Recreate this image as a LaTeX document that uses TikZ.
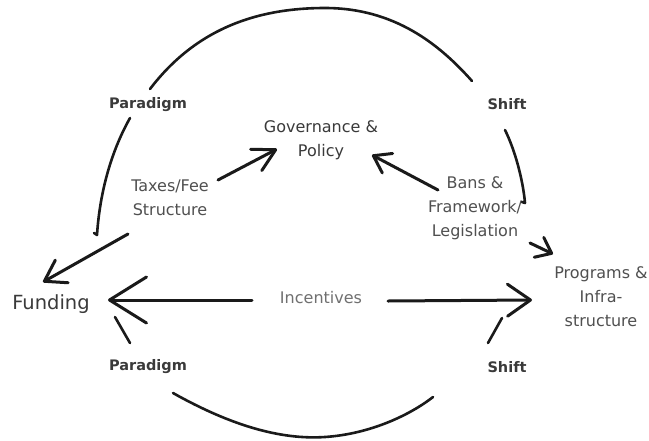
\documentclass[tikz,border=0pt]{standalone}
\usepackage{fontspec}
\setmainfont{DejaVu Sans}
\usetikzlibrary{arrows.meta}
\definecolor{ink}{HTML}{1A1A1A}
\definecolor{txt}{HTML}{505050}
\definecolor{txtl}{HTML}{707070}
\definecolor{txtd}{HTML}{3A3A3A}
\begin{document}
\begin{tikzpicture}[x=1pt,y=-1pt,
  lbl/.style={text=txt,font=\fontsize{16}{24}\selectfont,align=center,inner sep=0pt},
  kw/.style={text=txtd,font=\fontsize{14.5}{17}\selectfont\bfseries,inner sep=0pt},
  stroke/.style={draw=ink,line width=2.6pt,line cap=round,line join=round},
  arr/.style 2 args={stroke,line width=3pt,-{Straight Barb[length=#1pt,width=#2pt,round]}}]
\useasboundingbox[fill=white] (0,0) rectangle (649,440);
% labels
\node[lbl,text=txtd] (gov) at (321,140) {Governance \&\\Policy};
\node[lbl] (tax) at (170,198) {Taxes/Fee\\Structure};
\node[lbl] (bans) at (475,208) {Bans \&\\Framework/\\Legislation};
\node[lbl] (prog) at (601,297) {Programs \&\\Infra-\\structure};
\node[lbl,text=txtd,font=\fontsize{19.5}{24}\selectfont] (fund) at (51,304) {Funding};
\node[lbl,text=txtl] (inc) at (321,298) {Incentives};
\node[kw] (par1) at (148,105) {Paradigm};
\node[kw] (shift1) at (507,104) {Shift};
\node[kw] (par2) at (148,367) {Paradigm};
\node[kw] (shift2) at (507,367) {Shift};
% cycle arcs
\draw[stroke] ([shift={(2,-16)}]par1.center) .. controls (195,30) and (255,8) .. (325,8)
  .. controls (395,8) and (440,45) .. ([shift={(-35,-23)}]shift1.center);
\draw[stroke] ([shift={(-18,13)}]par1.center) .. controls (112,150) and (100,190) .. ([shift={(46,-69)}]fund.center) -- ++(-3,-2);
\draw[stroke] ([shift={(-2,26)}]shift1.center) .. controls (515,150) and (523,180) .. ([shift={(-76,-94)}]prog.center) -- ++(-3,-1);
\draw[stroke] ([shift={(25,26)}]par2.center) .. controls (230,425) and (280,440) .. (325,437)
  .. controls (370,434) and (410,415) .. ([shift={(-74,30)}]shift2.center);
\draw[stroke] ([shift={(-18,-24)}]par2.center) -- ([shift={(64,13)}]fund.center);
\draw[stroke] ([shift={(-19,-24)}]shift2.center) -- ([shift={(-99,21)}]prog.center);
% arrows
\draw[arr={22}{24}] ([shift={(48,-18)}]tax.center) -- ([shift={(-44,9)}]gov.center);
\draw[arr={16}{22}] ([shift={(-37,-18)}]bans.center) -- ([shift={(51,15)}]gov.center);
\draw[arr={14}{22}] ([shift={(55,35)}]bans.center) -- ([shift={(-48,-43)}]prog.center);
\draw[arr={20}{26}] ([shift={(-42,36)}]tax.center) -- ([shift={(-8,-22)}]fund.center);
\draw[arr={37}{46}] ([shift={(-69,2)}]inc.center) -- ([shift={(57,-4)}]fund.center);
\draw[arr={23}{32}] ([shift={(67,3)}]inc.center) -- ([shift={(-69,3)}]prog.center);
\end{tikzpicture}
\end{document}
